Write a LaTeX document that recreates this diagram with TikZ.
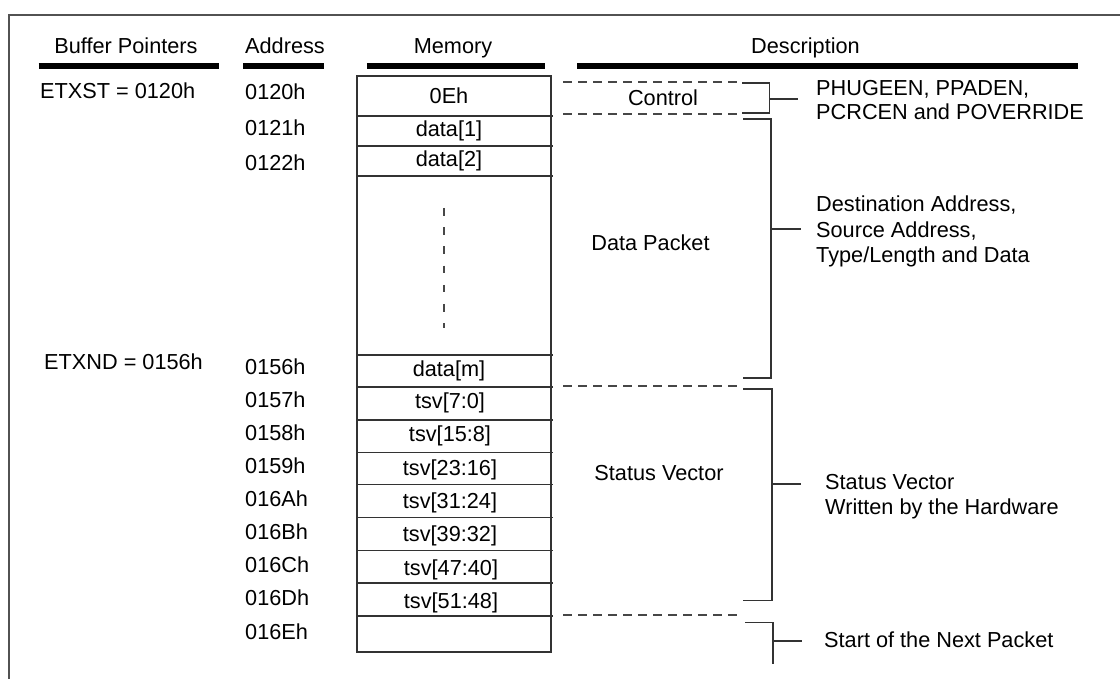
\documentclass[tikz,border=0pt]{standalone}
\usepackage{fontspec}
\setmainfont{Liberation Sans}
\begin{document}
\begin{tikzpicture}[x=1pt,y=-1pt,
  lbl/.style={font=\fontsize{21.7}{26}\selectfont, text=black, inner sep=0pt, anchor=base},
  lbll/.style={lbl, anchor=base west},
  frameline/.style={line width=2pt, draw=black!68},
  hbar/.style={line width=6pt, draw=black},
  cell/.style={line width=1.7pt, draw=black!80},
  brk/.style={line width=1.7pt, draw=black!80},
  dsh/.style={line width=1.8pt, draw=black!72, dash pattern=on 9pt off 6pt},
  vdsh/.style={line width=1.9pt, draw=black!72, dash pattern=on 7.7pt off 11.5pt}]
\useasboundingbox (0,0) rectangle (1120,679);
\fill[white] (0,0) rectangle (1120,679);

% open frame: top and left edges
\coordinate (frTL) at (9,15);
\coordinate (frTR) at (1120,15);
\coordinate (frBL) at (9,679);
\draw[frameline] (frTR) -- (frTL) -- (frBL);

% column headings and their rules
\node[lbl] (hbuf)  at (126,54)   {Buffer Pointers};
\node[lbl] (haddr) at (285,53.5) {Address};
\node[lbl] (hmem)  at (453,54)   {Memory};
\node[lbl] (hdesc) at (805.5,53.5) {Description};
\draw[hbar] (38.6,66.5) -- (218.6,66.5);
\draw[hbar] (243,66.5) -- (324.3,66.5);
\draw[hbar] (366.8,66.5) -- (544.6,66.5);
\draw[hbar] (577,66.5) -- (1078,66.5);

% buffer pointers
\node[lbll] (etxst) at (40,98.7) {ETXST = 0120h};
\node[lbll] (etxnd) at (44,369)  {ETXND = 0156h};

% addresses
\node[lbll] (a0120) at (245,100)   {0120h};
\node[lbll] (a0121) at (245,135.5) {0121h};
\node[lbll] (a0122) at (245,171)   {0122h};
\node[lbll] (a0156) at (245,374)   {0156h};
\node[lbll] (a0157) at (245,407.1) {0157h};
\node[lbll] (a0158) at (245,440.2) {0158h};
\node[lbll] (a0159) at (245,473.4) {0159h};
\node[lbll] (a016A) at (245,506.5) {016Ah};
\node[lbll] (a016B) at (245,539.6) {016Bh};
\node[lbll] (a016C) at (245,572.7) {016Ch};
\node[lbll] (a016D) at (245,605.8) {016Dh};
\node[lbll] (a016E) at (245,639)   {016Eh};

% memory column
\draw[cell] (357,76) rectangle (551,652);
\foreach \yy in {116,146,176,355,387,420,452.5,484.5,517.5,550.5,583,616.3}
  \draw[cell] (357,\yy) -- (553,\yy);
\draw[vdsh] (443.7,208) -- (443.7,328);

\node[lbl] (m0)  at (449,104)   {0Eh};
\node[lbl] (m1)  at (449,136.5) {data[1]};
\node[lbl] (m2)  at (449,167)   {data[2]};
\node[lbl] (mm)  at (449,376.5) {data[m]};
\node[lbl] (t0)  at (450,408)   {tsv[7:0]};
\node[lbl] (t1)  at (450,441.5) {tsv[15:8]};
\node[lbl] (t2)  at (450,475)   {tsv[23:16]};
\node[lbl] (t3)  at (450,508)   {tsv[31:24]};
\node[lbl] (t4)  at (450,541.5) {tsv[39:32]};
\node[lbl] (t5)  at (451,575)   {tsv[47:40]};
\node[lbl] (t6)  at (451,608)   {tsv[51:48]};

% region boundaries
\draw[dsh] (563,81.7)  -- (740,81.7);
\draw[dsh] (563,114.3) -- (740,114.3);
\draw[dsh] (563,385.7) -- (740,385.7);
\draw[dsh] (563,615)   -- (740,615);

\node[lbl] (rctl)  at (663,106)   {Control};
\node[lbl] (rdata) at (650.5,250.5) {Data Packet};
\node[lbl] (rstat) at (659,480)   {Status Vector};

% brackets
\coordinate (bcTop) at (742,83.3);
\coordinate (bcSp)  at (769.6,113.3);
\coordinate (bcBot) at (742,113.3);
\coordinate (bcMid) at (769.6,99);
\coordinate (bcEnd) at (798,99);
\draw[brk] (bcTop) -| (bcSp) -- (bcBot);
\draw[brk] (bcMid) -- (bcEnd);

\coordinate (bdTop) at (743,119);
\coordinate (bdSp)  at (771,378);
\coordinate (bdBot) at (743,378);
\coordinate (bdMid) at (771,229);
\coordinate (bdEnd) at (801,229);
\draw[brk] (bdTop) -| (bdSp) -- (bdBot);
\draw[brk] (bdMid) -- (bdEnd);

\coordinate (bsTop) at (743,388.7);
\coordinate (bsSp)  at (772,600.5);
\coordinate (bsBot) at (743,600.5);
\coordinate (bsMid) at (772,484);
\coordinate (bsEnd) at (801,484);
\draw[brk] (bsTop) -| (bsSp) -- (bsBot);
\draw[brk] (bsMid) -- (bsEnd);

\coordinate (bnTop) at (745,622.5);
\coordinate (bnSp)  at (773,664);
\coordinate (bnMid) at (773,641);
\coordinate (bnEnd) at (802,641);
\draw[brk] (bnTop) -| (bnSp);
\draw[brk] (bnMid) -- (bnEnd);

% descriptions
\node[lbll] (dc1) at (816,95.7)  {PHUGEEN, PPADEN,};
\node[lbll] (dc2) at (816,120)   {PCRCEN and POVERRIDE};
\node[lbll] (dd1) at (816,211.7) {Destination Address,};
\node[lbll] (dd2) at (816,237.3) {Source Address,};
\node[lbll] (dd3) at (816,263)   {Type/Length and Data};
\node[lbll] (ds1) at (825,489.3) {Status Vector};
\node[lbll] (ds2) at (825,514)   {Written by the Hardware};
\node[lbll] (dn1) at (824,647.3) {Start of the Next Packet};
\end{tikzpicture}
\end{document}
